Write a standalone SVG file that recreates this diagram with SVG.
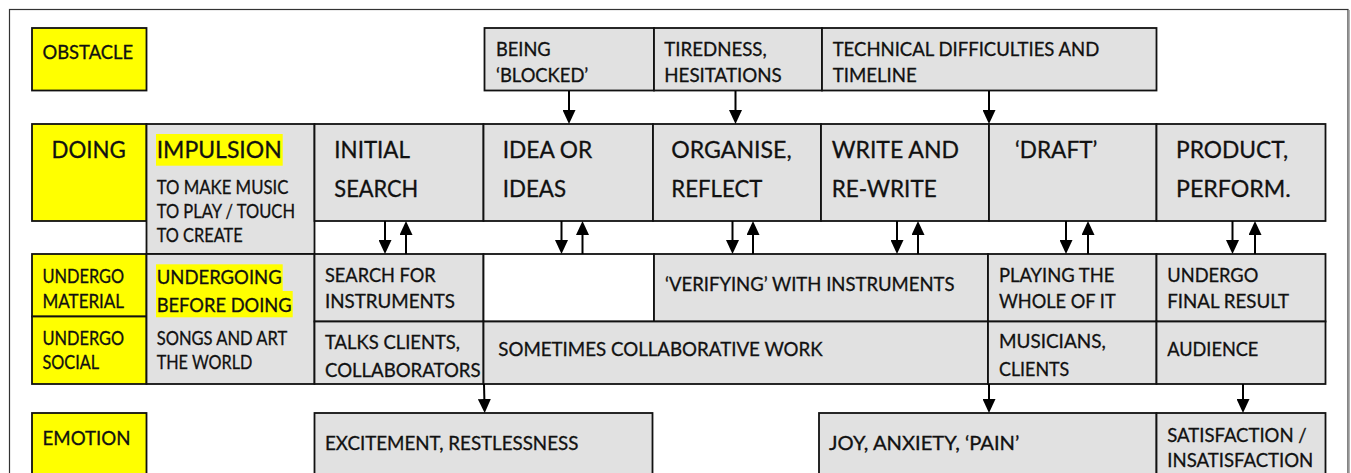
<svg xmlns="http://www.w3.org/2000/svg" width="1351" height="473" viewBox="0 0 1351 473">
  <defs>
    <style>
      .frame { fill: #ffffff; stroke: #333333; stroke-width: 1.2; }
      .lab { fill: #ffff00; stroke: #111111; stroke-width: 1.8; }
      .cell { fill: #e1e1e1; stroke: #111111; stroke-width: 1.8; }
      .blank { fill: #ffffff; stroke: #111111; stroke-width: 1.8; }
      .hl { fill: #ffff00; stroke: none; }
      text { font-family: Lato, "Liberation Sans", sans-serif; fill: #111111; stroke: #111111; stroke-width: 0.3; }
      .big { font-size: 23px; }
      .sm { font-size: 18.5px; }
      .arr { stroke: #000000; stroke-width: 2; fill: none; marker-end: url(#ah); }
    </style>
    <marker id="ah" viewBox="0 0 14 13" refX="6" refY="6.5" markerWidth="14" markerHeight="13" markerUnits="userSpaceOnUse" orient="auto">
      <path d="M0,0 L14,6.5 L0,13 Z" fill="#000000"/>
    </marker>
  </defs>

  <rect class="frame" x="9.5" y="9.5" width="1338.5" height="480"/>
  <line x1="1349" y1="10" x2="1349" y2="473" stroke="#9a9a9a" stroke-width="1.5"/>

  <!-- Row labels -->
  <g id="label-obstacle">
    <rect class="lab" x="32" y="28" width="114.5" height="62.5"/>
    <text class="sm" x="42.5" y="59.3" textLength="90.6" lengthAdjust="spacingAndGlyphs">OBSTACLE</text>
  </g>
  <g id="label-doing">
    <rect class="lab" x="32" y="124" width="114.5" height="97"/>
    <text class="big" x="51.5" y="158.3" textLength="74.3" lengthAdjust="spacingAndGlyphs">DOING</text>
  </g>
  <g id="label-undergo-material">
    <rect class="lab" x="32" y="254" width="114.5" height="62.5"/>
    <text class="sm" x="42.5" y="283.3" textLength="81.6" lengthAdjust="spacingAndGlyphs">UNDERGO</text>
    <text class="sm" x="42.5" y="307.7" textLength="81.6" lengthAdjust="spacingAndGlyphs">MATERIAL</text>
  </g>
  <g id="label-undergo-social">
    <rect class="lab" x="32" y="316.5" width="114.5" height="67.5"/>
    <text class="sm" x="42.5" y="345.3" textLength="81.6" lengthAdjust="spacingAndGlyphs">UNDERGO</text>
    <text class="sm" x="42.5" y="369.3" textLength="56.6" lengthAdjust="spacingAndGlyphs">SOCIAL</text>
  </g>
  <g id="label-emotion">
    <rect class="lab" x="32" y="413" width="114.5" height="80"/>
    <text class="sm" x="42.5" y="445" textLength="88" lengthAdjust="spacingAndGlyphs">EMOTION</text>
  </g>

  <!-- Obstacles -->
  <g id="obs-blocked">
    <rect class="cell" x="484.5" y="28" width="169.5" height="62.5"/>
    <text class="sm" x="496" y="56" textLength="54.7" lengthAdjust="spacingAndGlyphs">BEING</text>
    <text class="sm" x="496" y="82.3" textLength="92.3" lengthAdjust="spacingAndGlyphs">‘BLOCKED’</text>
  </g>
  <g id="obs-tiredness">
    <rect class="cell" x="654" y="28" width="168" height="62.5"/>
    <text class="sm" x="664.3" y="56" textLength="102.4" lengthAdjust="spacingAndGlyphs">TIREDNESS,</text>
    <text class="sm" x="664.3" y="82.3" textLength="117.4" lengthAdjust="spacingAndGlyphs">HESITATIONS</text>
  </g>
  <g id="obs-technical">
    <rect class="cell" x="822" y="28" width="334.5" height="62.5"/>
    <text class="sm" x="832.7" y="56" textLength="266.6" lengthAdjust="spacingAndGlyphs">TECHNICAL DIFFICULTIES AND</text>
    <text class="sm" x="832.7" y="82.3" textLength="84" lengthAdjust="spacingAndGlyphs">TIMELINE</text>
  </g>

  <!-- Impulsion column -->
  <g id="impulsion">
    <rect class="cell" x="146.5" y="124" width="168" height="130"/>
    <rect class="hl" x="156" y="134" width="126.7" height="31.7"/>
    <text class="big" x="156.7" y="158.3" textLength="125" lengthAdjust="spacingAndGlyphs">IMPULSION</text>
    <text class="sm" x="156.7" y="194.3" textLength="131.7" lengthAdjust="spacingAndGlyphs">TO MAKE MUSIC</text>
    <text class="sm" x="156.7" y="218.3" textLength="138.3" lengthAdjust="spacingAndGlyphs">TO PLAY / TOUCH</text>
    <text class="sm" x="156.7" y="242.3" textLength="86" lengthAdjust="spacingAndGlyphs">TO CREATE</text>
  </g>
  <g id="undergoing-before">
    <rect class="cell" x="146.5" y="254" width="168" height="130"/>
    <rect class="hl" x="156" y="264.3" width="126.7" height="27"/>
    <rect class="hl" x="156" y="291" width="136.7" height="26.3"/>
    <text class="sm" x="156.7" y="284.3" style="font-size:19px" textLength="125" lengthAdjust="spacingAndGlyphs">UNDERGOING</text>
    <text class="sm" x="156.7" y="311.7" style="font-size:19px" textLength="135" lengthAdjust="spacingAndGlyphs">BEFORE DOING</text>
    <text class="sm" x="156.7" y="345.3" textLength="130.6" lengthAdjust="spacingAndGlyphs">SONGS AND ART</text>
    <text class="sm" x="156.7" y="369.3" textLength="95.6" lengthAdjust="spacingAndGlyphs">THE WORLD</text>
  </g>

  <!-- Doing row -->
  <g id="doing-initial-search">
    <rect class="cell" x="314.5" y="124" width="169" height="97"/>
    <text class="big" x="334.3" y="158.3" textLength="75.7" lengthAdjust="spacingAndGlyphs">INITIAL</text>
    <text class="big" x="334.3" y="196.7" textLength="84" lengthAdjust="spacingAndGlyphs">SEARCH</text>
  </g>
  <g id="doing-idea">
    <rect class="cell" x="483.5" y="124" width="169.5" height="97"/>
    <text class="big" x="502.7" y="158.3" textLength="89.6" lengthAdjust="spacingAndGlyphs">IDEA OR</text>
    <text class="big" x="502.7" y="196.7" textLength="63.3" lengthAdjust="spacingAndGlyphs">IDEAS</text>
  </g>
  <g id="doing-organise">
    <rect class="cell" x="653" y="124" width="168" height="97"/>
    <text class="big" x="671.3" y="158.3" textLength="120.4" lengthAdjust="spacingAndGlyphs">ORGANISE,</text>
    <text class="big" x="671.3" y="196.7" textLength="91" lengthAdjust="spacingAndGlyphs">REFLECT</text>
  </g>
  <g id="doing-write">
    <rect class="cell" x="821" y="124" width="168" height="97"/>
    <text class="big" x="831.7" y="158.3">WRITE AND</text>
    <text class="big" x="831.7" y="196.7" textLength="105" lengthAdjust="spacingAndGlyphs">RE-WRITE</text>
  </g>
  <g id="doing-draft">
    <rect class="cell" x="989" y="124" width="167.5" height="97"/>
    <text class="big" x="1015" y="158.3" textLength="82.3" lengthAdjust="spacingAndGlyphs">‘DRAFT’</text>
  </g>
  <g id="doing-product">
    <rect class="cell" x="1156.5" y="124" width="169" height="97"/>
    <text class="big" x="1176" y="158.3" textLength="112.3" lengthAdjust="spacingAndGlyphs">PRODUCT,</text>
    <text class="big" x="1176" y="196.7" textLength="114.7" lengthAdjust="spacingAndGlyphs">PERFORM.</text>
  </g>

  <!-- Undergo material row -->
  <g id="mat-search">
    <rect class="cell" x="314.5" y="254" width="169" height="67.5"/>
    <text class="sm" x="325" y="282.3" textLength="110.7" lengthAdjust="spacingAndGlyphs">SEARCH FOR</text>
    <text class="sm" x="325" y="308.3" textLength="130" lengthAdjust="spacingAndGlyphs">INSTRUMENTS</text>
  </g>
  <g id="mat-empty">
    <rect class="blank" x="483.5" y="254" width="170.5" height="67.5"/>
  </g>
  <g id="mat-verifying">
    <rect class="cell" x="654" y="254" width="334" height="67.5"/>
    <text class="sm" x="665" y="291">‘VERIFYING’ WITH INSTRUMENTS</text>
  </g>
  <g id="mat-playing">
    <rect class="cell" x="988" y="254" width="168.5" height="67.5"/>
    <text class="sm" x="999" y="282.3" textLength="115.3" lengthAdjust="spacingAndGlyphs">PLAYING THE</text>
    <text class="sm" x="999" y="308.3" textLength="116.7" lengthAdjust="spacingAndGlyphs">WHOLE OF IT</text>
  </g>
  <g id="mat-final">
    <rect class="cell" x="1156.5" y="254" width="169" height="67.5"/>
    <text class="sm" x="1167.3" y="282.3" textLength="91" lengthAdjust="spacingAndGlyphs">UNDERGO</text>
    <text class="sm" x="1167.3" y="308.3" textLength="121.7" lengthAdjust="spacingAndGlyphs">FINAL RESULT</text>
  </g>

  <!-- Undergo social row -->
  <g id="soc-talks">
    <rect class="cell" x="314.5" y="321.5" width="169" height="62.5"/>
    <text class="sm" x="325" y="349.3" textLength="135" lengthAdjust="spacingAndGlyphs">TALKS CLIENTS,</text>
    <text class="sm" x="325" y="376.7" textLength="155.5" lengthAdjust="spacingAndGlyphs">COLLABORATORS</text>
  </g>
  <g id="soc-collab">
    <rect class="cell" x="483.5" y="321.5" width="504.5" height="62.5"/>
    <text class="sm" x="498.3" y="355.7" textLength="324.4" lengthAdjust="spacingAndGlyphs">SOMETIMES COLLABORATIVE WORK</text>
  </g>
  <g id="soc-musicians">
    <rect class="cell" x="988" y="321.5" width="168.5" height="62.5"/>
    <text class="sm" x="999" y="348.3" textLength="106.7" lengthAdjust="spacingAndGlyphs">MUSICIANS,</text>
    <text class="sm" x="999" y="376" textLength="70.3" lengthAdjust="spacingAndGlyphs">CLIENTS</text>
  </g>
  <g id="soc-audience">
    <rect class="cell" x="1156.5" y="321.5" width="169" height="62.5"/>
    <text class="sm" x="1167.3" y="355.7" textLength="91" lengthAdjust="spacingAndGlyphs">AUDIENCE</text>
  </g>

  <!-- Emotion row -->
  <g id="emo-excitement">
    <rect class="cell" x="314.5" y="413" width="338" height="80"/>
    <text class="sm" x="325" y="450" textLength="253.3" lengthAdjust="spacingAndGlyphs">EXCITEMENT, RESTLESSNESS</text>
  </g>
  <g id="emo-joy">
    <rect class="cell" x="819" y="413" width="337.5" height="80"/>
    <text class="sm" x="829" y="450" textLength="190.3" lengthAdjust="spacingAndGlyphs">JOY, ANXIETY, ‘PAIN’</text>
  </g>
  <g id="emo-satisfaction">
    <rect class="cell" x="1156.5" y="413" width="169" height="80"/>
    <text class="sm" x="1167.3" y="442.3" textLength="139.4" lengthAdjust="spacingAndGlyphs">SATISFACTION /</text>
    <text class="sm" x="1167.3" y="466.7" textLength="146" lengthAdjust="spacingAndGlyphs">INSATISFACTION</text>
  </g>

  <!-- Connectors -->
  <g id="connectors">
    <line class="arr" x1="569" y1="91" x2="569" y2="116"/>
    <line class="arr" x1="735.5" y1="91" x2="735.5" y2="116"/>
    <line class="arr" x1="989" y1="91" x2="989" y2="116"/>

    <line class="arr" x1="385" y1="221" x2="385" y2="246"/>
    <line class="arr" x1="406" y1="254" x2="406" y2="229"/>
    <line class="arr" x1="561.5" y1="221" x2="561.5" y2="246"/>
    <line class="arr" x1="582.5" y1="254" x2="582.5" y2="229"/>
    <line class="arr" x1="732.5" y1="221" x2="732.5" y2="246"/>
    <line class="arr" x1="753" y1="254" x2="753" y2="229"/>
    <line class="arr" x1="897" y1="221" x2="897" y2="246"/>
    <line class="arr" x1="918" y1="254" x2="918" y2="229"/>
    <line class="arr" x1="1066" y1="221" x2="1066" y2="246"/>
    <line class="arr" x1="1088" y1="254" x2="1088" y2="229"/>
    <line class="arr" x1="1232.5" y1="221" x2="1232.5" y2="246"/>
    <line class="arr" x1="1255" y1="254" x2="1255" y2="229"/>

    <line class="arr" x1="484" y1="384" x2="484.5" y2="405"/>
    <line class="arr" x1="989" y1="384" x2="989" y2="405"/>
    <line class="arr" x1="1243" y1="384" x2="1243" y2="405"/>
  </g>
</svg>
